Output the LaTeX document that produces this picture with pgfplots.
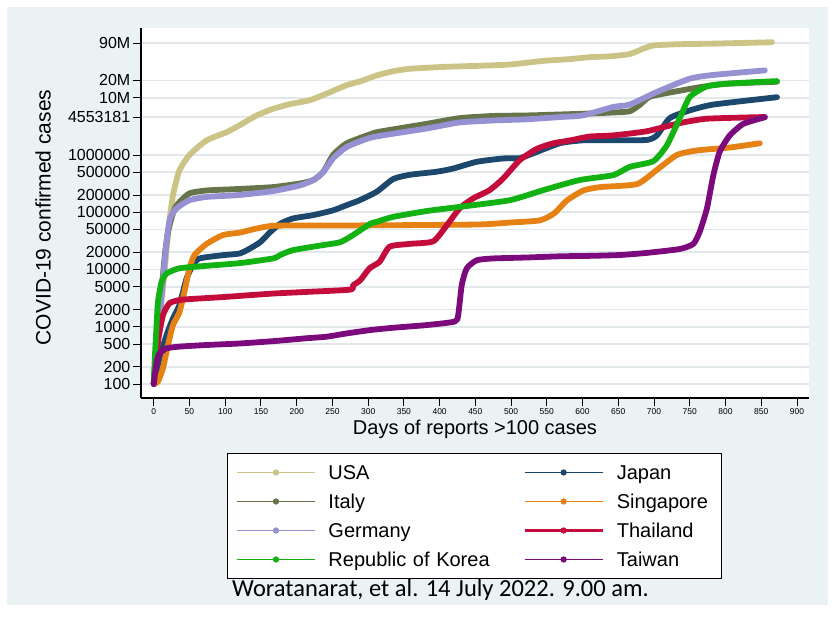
\documentclass[border=0pt]{standalone}
\usepackage{fontspec}
\setmainfont{Liberation Sans}
\newfontfamily\capfont{Carlito}
\usepackage{pgfplots}
\pgfplotsset{compat=1.18}

\definecolor{bgc}{RGB}{234,242,243}
\definecolor{gridc}{RGB}{226,232,234}
\definecolor{cusa}{RGB}{204,196,134}
\definecolor{citaly}{RGB}{102,116,74}
\definecolor{cgermany}{RGB}{150,145,210}
\definecolor{ckorea}{RGB}{18,178,18}
\definecolor{cjapan}{RGB}{28,72,110}
\definecolor{csing}{RGB}{230,130,20}
\definecolor{cthai}{RGB}{196,12,60}
\definecolor{ctaiwan}{RGB}{125,10,125}

\pgfplotsset{
  curve/.style={line width=5.8bp, line cap=round, line join=round, smooth, tension=0.35, forget plot},
  legimg/.style={legend image code/.code={
      \draw[line width=#1] (0bp,0bp) -- (78bp,0bp);
      \fill (39bp,0bp) circle (2.6bp);}},
}

\begin{document}
\begin{tikzpicture}
\fill[white] (0bp,0bp) rectangle (839bp,-621bp);
\fill[bgc] (7bp,-7bp) rectangle (828bp,-605bp);
\begin{axis}[
  at={(141bp,-398bp)}, anchor=south west,
  scale only axis, width=668bp, height=370bp,
  xmin=-17.8, xmax=916.8,
  ymode=log, ymin=56.96, ymax=1.65e8,
  axis background/.style={fill=white},
  axis x line*=bottom, axis y line*=left,
  axis line style={black, line width=1.3bp},
  every tick/.style={black, line width=0.9bp},
  tick align=outside, major tick length=8bp,
  yminorticks=false, xminorticks=false,
  xtick={0,50,...,900},
  ytick={100,200,500,1000,2000,5000,10000,20000,50000,100000,200000,500000,1000000,4553181,10000000,20000000,90000000},
  yticklabels={100,200,500,1000,2000,5000,10000,20000,50000,100000,200000,500000,1000000,4553181,10M,20M,90M},
  /pgf/number format/assume math mode=true,
  x tick label style={font=\fontsize{8.5bp}{9bp}\selectfont, inner sep=2bp},
  y tick label style={font=\fontsize{16bp}{17bp}\selectfont, inner sep=2.5bp},
  ymajorgrids, major grid style={gridc, line width=1.6bp},
  xlabel={Days of reports >100 cases},
  xlabel style={font=\fontsize{20bp}{22bp}\selectfont, at={(axis description cs:0.5,0)}, anchor=base, yshift=-36bp},
  ylabel={COVID-19 confirmed cases},
  ylabel style={font=\fontsize{21bp}{23bp}\selectfont, at={(axis description cs:-0.1467,0.488)}, anchor=center},
  legend columns=2,
  legend cell align=left,
  legend style={at={(axis description cs:0.1287,-0.1486)}, anchor=north west,
    draw=black, line width=1bp, fill=white,
    font=\fontsize{20bp}{22bp}\selectfont,
    inner xsep=9bp, inner ysep=9bp, row sep=9bp,
    nodes={inner sep=0pt, text height=17bp, text depth=3bp},
    /tikz/column 1/.style={column sep=13bp},
    /tikz/column 2/.style={nodes={text width=195bp}},
    /tikz/column 3/.style={column sep=13bp},
    /tikz/column 4/.style={nodes={text width=96bp}}},
]

% USA
\addplot[curve, cusa] coordinates {
(0,100) (7,1000) (14,6500) (21,55000) (27,200000) (36,540000) (50,1000000)
(74,1800000) (102,2500000) (120,3300000) (144,4900000) (167,6400000)
(190,7700000) (219,9100000) (242,11800000) (270,16600000) (290,19500000)
(312,24500000) (335,29000000) (358,32000000) (405,34500000) (452,36000000)
(498,38000000) (545,44000000) (580,47000000) (610,51000000) (640,53000000)
(666,58000000) (685,72000000) (700,82000000) (736,86000000) (783,88000000)
(865,93000000)};

% Italy
\addplot[curve, citaly] coordinates {
(0,100) (4,400) (8,1500) (12,6000) (16,20000) (20,45000) (25,80000)
(30,120000) (36,150000) (50,214000) (74,240000) (120,255000) (167,275000)
(205,318000) (223,363000) (237,500000) (251,1000000) (270,1600000)
(303,2300000) (312,2500000) (335,2800000) (382,3500000) (428,4400000)
(475,4800000) (522,4900000) (569,5100000) (610,5300000) (640,5500000)
(666,5800000) (680,7500000) (695,10500000) (741,13600000) (769,15600000)
(800,17500000) (872,19000000)};

% Germany
\addplot[curve, cgermany] coordinates {
(0,100) (4,350) (8,1300) (12,5000) (16,17000) (19,40000) (23,80000)
(32,117000) (50,162000) (74,185000) (120,200000) (167,234000) (205,295000)
(223,363000) (237,500000) (251,870000) (270,1380000) (303,2000000)
(335,2350000) (382,2900000) (428,3700000) (475,4000000) (522,4200000)
(569,4600000) (600,4900000) (643,6900000) (666,7600000) (704,12600000)
(750,21500000) (783,25000000) (855,30000000)};

% Japan
\addplot[curve, cjapan] coordinates {
(0,100) (8,280) (18,720) (27,1400) (36,2400) (46,7000) (55,12000)
(64,15600) (97,17800) (120,19000) (134,23000) (149,30000) (163,45000)
(177,63000) (195,78000) (223,89000) (251,108000) (270,133000) (288,162000)
(312,228000) (335,380000) (358,450000) (396,510000) (419,580000)
(452,760000) (489,870000) (512,880000) (531,1070000) (568,1600000)
(600,1800000) (643,1810000) (690,1830000) (704,2200000) (722,4400000)
(750,6000000) (783,7600000) (872,10200000)};

% Singapore
\addplot[curve, csing] coordinates {
(0,100) (6,110) (13,190) (20,480) (27,1070) (36,1800) (43,4100) (50,10500)
(57,17900) (74,28000) (97,40000) (120,44000) (144,52000) (167,58000)
(214,58500) (303,59000) (452,61000) (498,66000) (540,72000) (560,95000)
(578,160000) (601,240000) (625,275000) (676,310000) (704,550000)
(732,1000000) (760,1200000) (806,1350000) (848,1600000)};

% Thailand
\addplot[curve, cthai] coordinates {
(0,100) (6,550) (13,1600) (22,2570) (36,2930) (50,3040) (97,3300)
(167,3800) (214,4060) (275,4450) (279,5300) (289,6500) (302,10500)
(316,13600) (330,25000) (358,28000) (391,31000) (410,59000) (428,117000)
(447,175000) (470,243000) (489,390000) (512,810000) (536,1280000)
(559,1600000) (583,1800000) (610,2100000) (643,2200000) (690,2600000)
(736,3600000) (774,4300000) (855,4600000)};

% Republic of Korea
\addplot[curve, ckorea] coordinates {
(0,100) (1.5,280) (4,1070) (6,2750) (11,6100) (18,8500) (36,10500)
(74,11600) (120,12900) (167,15600) (177,17900) (195,21800) (237,26700)
(261,30000) (279,40000) (303,63000) (312,68000) (335,83000) (382,105000)
(428,124000) (498,162000) (545,243000) (596,365000) (643,445000)
(666,620000) (699,780000) (718,1480000) (736,4400000) (750,10300000)
(774,15800000) (806,17700000) (872,19500000)};

% Taiwan
\addplot[curve, ctaiwan] coordinates {
(0,100) (4,245) (8,340) (18,420) (36,450) (74,480) (120,510) (167,560)
(214,630) (242,670) (270,765) (303,875) (335,960) (382,1070) (421,1230)
(426,1600) (431,5400) (438,10500) (452,14500) (475,15600) (522,16200)
(569,17000) (610,17300) (652,17900) (690,19500) (736,22800) (755,28000)
(764,46000) (774,117000) (783,445000) (792,1150000) (806,2200000)
(825,3500000) (855,4553181)};

% legend entries, row by row
\addlegendimage{cusa, legimg=1bp}
\addlegendentry{USA}
\addlegendimage{cjapan, legimg=1bp}
\addlegendentry{Japan}
\addlegendimage{citaly, legimg=1bp}
\addlegendentry{Italy}
\addlegendimage{csing, legimg=1bp}
\addlegendentry{Singapore}
\addlegendimage{cgermany, legimg=1bp}
\addlegendentry{Germany}
\addlegendimage{cthai, legimg=2.4bp}
\addlegendentry{Thailand}
\addlegendimage{ckorea, legimg=1bp}
\addlegendentry{Republic of Korea}
\addlegendimage{ctaiwan, legimg=1bp}
\addlegendentry{Taiwan}
\end{axis}
\node[anchor=base west, inner sep=0pt, font=\capfont\fontsize{24.5bp}{26bp}\selectfont]
  at (232bp,-596bp) {Woratanarat, et al. 14 July 2022. 9.00 am.};
\end{tikzpicture}
\end{document}
